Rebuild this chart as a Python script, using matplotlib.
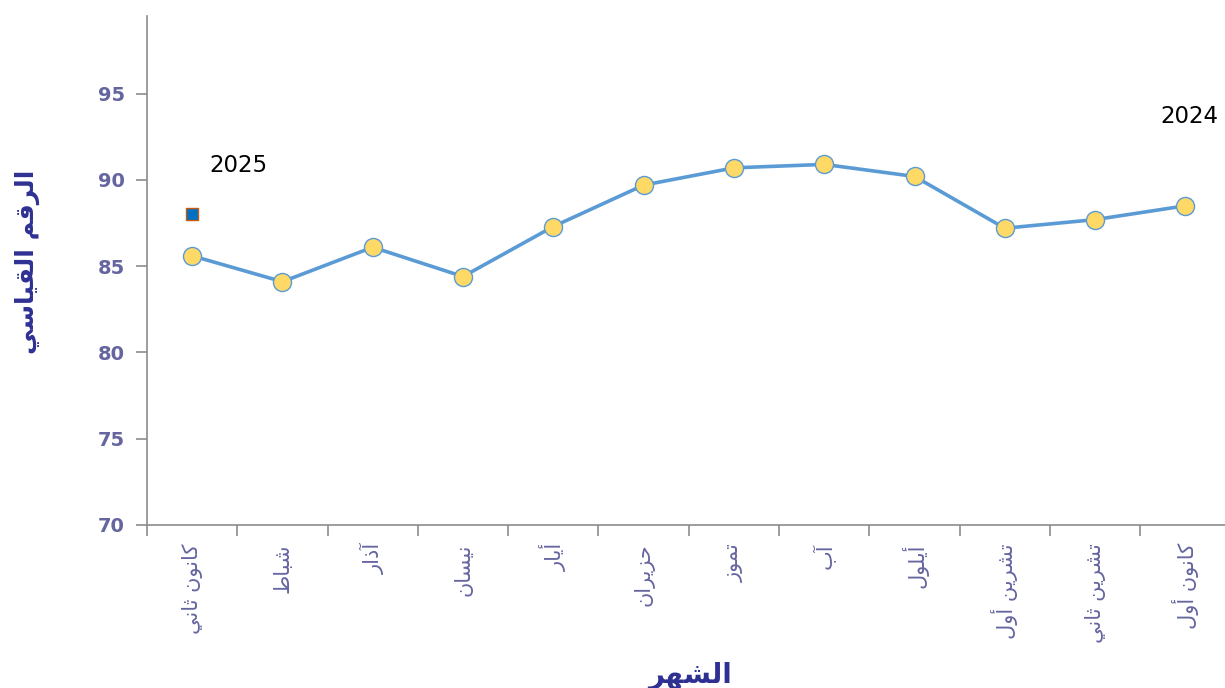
import matplotlib
matplotlib.use("Agg")
import matplotlib.pyplot as plt
from matplotlib.ticker import FixedLocator, NullFormatter


# =========================
# DATA
# =========================
months = ["كانون ثاني", "شباط", "آذار", "نيسان", "أيار", "حزيران",
          "تموز", "آب", "أيلول", "تشرين أول", "تشرين ثاني", "كانون أول"]
index_2024 = [85.6, 84.1, 86.1, 84.4, 87.3, 89.7, 90.7, 90.9, 90.2, 87.2, 87.7, 88.5]
index_2025 = [88.0]
y_ticks = [70, 75, 80, 85, 90, 95]
y_label = "الرقم القياسي"
x_label = "الشهر"
label_2025 = "2025"
label_2024 = "2024"


# =========================
# ARABIC SHAPING (no bidi engine in matplotlib)
# isolated, final, initial, medial
# =========================
FORMS = {
    "\u0627": ("\uFE8D", "\uFE8E", None, None),
    "\u0622": ("\uFE81", "\uFE82", None, None),
    "\u0623": ("\uFE83", "\uFE84", None, None),
    "\u0628": ("\uFE8F", "\uFE90", "\uFE91", "\uFE92"),
    "\u062A": ("\uFE95", "\uFE96", "\uFE97", "\uFE98"),
    "\u062B": ("\uFE99", "\uFE9A", "\uFE9B", "\uFE9C"),
    "\u062D": ("\uFEA1", "\uFEA2", "\uFEA3", "\uFEA4"),
    "\u0630": ("\uFEAB", "\uFEAC", None, None),
    "\u0631": ("\uFEAD", "\uFEAE", None, None),
    "\u0632": ("\uFEAF", "\uFEB0", None, None),
    "\u0633": ("\uFEB1", "\uFEB2", "\uFEB3", "\uFEB4"),
    "\u0634": ("\uFEB5", "\uFEB6", "\uFEB7", "\uFEB8"),
    "\u0637": ("\uFEC1", "\uFEC2", "\uFEC3", "\uFEC4"),
    "\u0642": ("\uFED5", "\uFED6", "\uFED7", "\uFED8"),
    "\u0643": ("\uFED9", "\uFEDA", "\uFEDB", "\uFEDC"),
    "\u0644": ("\uFEDD", "\uFEDE", "\uFEDF", "\uFEE0"),
    "\u0645": ("\uFEE1", "\uFEE2", "\uFEE3", "\uFEE4"),
    "\u0646": ("\uFEE5", "\uFEE6", "\uFEE7", "\uFEE8"),
    "\u0647": ("\uFEE9", "\uFEEA", "\uFEEB", "\uFEEC"),
    "\u0648": ("\uFEED", "\uFEEE", None, None),
    "\u064A": ("\uFEF1", "\uFEF2", "\uFEF3", "\uFEF4"),
}


def shape(text: str) -> str:
    out = []
    for i, c in enumerate(text):
        if c not in FORMS:
            out.append(c)
            continue
        prev = text[i - 1] if i > 0 else None
        nxt = text[i + 1] if i + 1 < len(text) else None
        join_prev = prev in FORMS and FORMS[prev][2] is not None
        join_next = nxt in FORMS and FORMS[c][2] is not None
        iso, fin, ini, med = FORMS[c]
        if join_prev and join_next:
            out.append(med)
        elif join_prev:
            out.append(fin)
        elif join_next:
            out.append(ini)
        else:
            out.append(iso)
    return "".join(reversed(out))


# =========================
# STYLE
# =========================
TICK_COLOR = "#6565A0"
TITLE_COLOR = "#2E3192"
SPINE_COLOR = "#8C8C8C"
LINE_COLOR = "#5B9BD5"
MARKER_FILL = "#FFD966"

plt.rcParams["font.family"] = ["DejaVu Sans"]

fig = plt.figure(figsize=(12.25, 6.88), dpi=100)
# 12 categories of ~90.3 px, starting at x=147 (runs a bit past the right edge)
ax = fig.add_axes([147 / 1225, 1 - 525 / 688, 12 * 90.3 / 1225, (525 - 16) / 688])

x = list(range(len(months)))
ax.plot(x, index_2024, color=LINE_COLOR, linewidth=2.6, marker="o",
        markersize=13, markerfacecolor=MARKER_FILL,
        markeredgecolor=LINE_COLOR, markeredgewidth=1.0, zorder=3)
ax.plot(x[:len(index_2025)], index_2025, linestyle="none", marker="s",
        markersize=9, markerfacecolor="#0070C0", markeredgecolor="#C55A11",
        markeredgewidth=1.0, zorder=3)

ax.text(0.51, 90.85, label_2025, ha="center", va="center", fontsize=16.5, color="black")
ax.text(11.04, 93.7, label_2024, ha="center", va="center", fontsize=16.5, color="black")

ax.set_xlim(-0.5, len(months) - 0.5)
ax.set_ylim(70, 99.5)

# axes / spines
for side in ["top", "right"]:
    ax.spines[side].set_visible(False)
for side in ["left", "bottom"]:
    ax.spines[side].set_color(SPINE_COLOR)
    ax.spines[side].set_linewidth(1.2)

ax.set_yticks(y_ticks)
ax.set_yticklabels([str(v) for v in y_ticks], fontsize=14, fontweight="bold", color=TICK_COLOR)
ax.tick_params(axis="y", direction="out", length=8, width=1.2, color=SPINE_COLOR, pad=8)

ax.set_xticks(x)
ax.set_xticklabels([shape(m) for m in months], rotation=90, fontsize=15,
                   color=TICK_COLOR, va="top", ha="center")
ax.tick_params(axis="x", which="major", length=0, pad=13)
ax.xaxis.set_minor_locator(FixedLocator([i - 0.5 for i in range(len(months) + 1)]))
ax.xaxis.set_minor_formatter(NullFormatter())
ax.tick_params(axis="x", which="minor", direction="out", length=8, width=1.2, color=SPINE_COLOR)

fig.text(27 / 1225, 1 - 262 / 688, shape(y_label), rotation=90, ha="center", va="center",
         fontsize=18, fontweight="bold", color=TITLE_COLOR)
fig.text(690 / 1225, 1 - 676 / 688, shape(x_label), ha="center", va="center",
         fontsize=20, fontweight="bold", color=TITLE_COLOR)

fig.savefig("out.png", dpi=100)
